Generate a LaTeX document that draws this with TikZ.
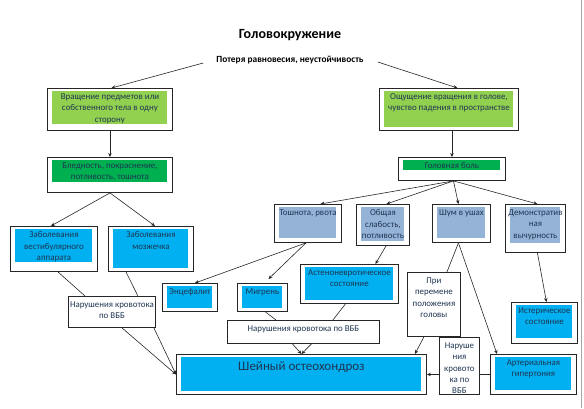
\documentclass[tikz,border=0pt]{standalone}
\usepackage{fontspec}
\setmainfont{Carlito}
\usetikzlibrary{arrows.meta,calc}
\definecolor{lgreen}{HTML}{92D050}
\definecolor{dgreen}{HTML}{00B050}
\definecolor{sky}{HTML}{00B0F0}
\definecolor{lav}{HTML}{95B3D7}
\definecolor{dtext}{HTML}{1F3552}
% frame with a coloured inner field and its text near the top
\newcommand{\SymBox}[7]{%
  \node[frame,inbox={#5}{#6},minimum width=#3,minimum height=#4] (#1) at (#2) {};
  \node[txt] (#1-t) at ([yshift=-5.5pt]#1.north) {#7};
}
\tikzset{
    >=Stealth,
    frame/.style={draw=black!85,line width=0.9pt,fill=white,anchor=north west,inner sep=0pt},
    inbox/.style 2 args={path picture={\fill[#1] ([xshift=5pt,yshift=-3pt]path picture bounding box.north west) rectangle ([xshift=-5pt,yshift=#2]path picture bounding box.south east);}},
    txt/.style={anchor=north,inner sep=0pt,align=center,text=dtext,font=\fontsize{8.9}{11.3}\selectfont},
    conn/.style={line width=0.6pt,black!85},
    arr/.style={conn,-{Stealth[length=4pt,width=3.5pt]}},
}
\begin{document}
\begin{tikzpicture}[x=1pt,y=-1pt]
    \useasboundingbox (0,0) rectangle (584,408);
    \draw[black!35,line width=1pt] (581,0) -- (581,408);

    \node[font=\fontsize{14}{16}\selectfont\bfseries] (title) at (290,35) {Головокружение};
    \node[inner sep=0pt,font=\fontsize{9.4}{11}\selectfont\bfseries] (sub) at (290,60) {Потеря равновесия, неустойчивость};

    \SymBox{rot}{47,88}{125pt}{42pt}{lgreen}{6pt}{Вращение предметов или\\собственного тела в одну\\сторону}
    \SymBox{sens}{379,88}{139pt}{42pt}{lgreen}{3pt}{Ощущение вращения в голове,\\чувство падения в пространстве}
    \SymBox{pale}{47,157}{125pt}{35pt}{dgreen}{10pt}{Бледность, покраснение,\\потливость, тошнота}
    \SymBox{head}{398,157}{107pt}{23pt}{dgreen}{10pt}{Головная боль}
    \SymBox{vest}{10,226}{87pt}{45pt}{sky}{9pt}{Заболевания\\вестибулярного\\аппарата}
    \SymBox{cereb}{108,226}{85pt}{45pt}{sky}{3pt}{Заболевания\\мозжечка}
    \SymBox{nausea}{274,204}{67pt}{38pt}{lav}{4pt}{Тошнота, рвота}
    \SymBox{weak}{356,204}{53pt}{41pt}{lav}{4pt}{Общая\\слабость,\\потливость}
    \SymBox{noise}{432,204}{58pt}{38pt}{lav}{4pt}{Шум в ушах}
    \SymBox{demo}{505,204}{60pt}{48pt}{lav}{9pt}{Демонстратив\\ная\\вычурность}
    \SymBox{enc}{162,283}{55pt}{28pt}{sky}{3pt}{Энцефалит}
    \SymBox{migr}{237,283}{50pt}{28pt}{sky}{3pt}{Мигрень}
    \SymBox{asth}{300,264}{98pt}{39pt}{sky}{3pt}{Астеноневротическое\\состояние}
    \SymBox{hyst}{511,302}{66pt}{41pt}{sky}{5pt}{Истерическое\\состояние}
    \SymBox{art}{490,354}{86pt}{40pt}{sky}{4pt}{Артериальная\\гипертония}
    \SymBox{vbbA}{68,296}{87pt}{31pt}{white}{0pt}{Нарушения кровотока\\по ВББ}
    \SymBox{vbbB}{227,320}{152pt}{23pt}{white}{0pt}{Нарушения кровотока по ВББ}
    \SymBox{pos}{407,272}{53pt}{64pt}{white}{0pt}{При\\перемене\\положения\\головы}
    \SymBox{vbbC}{439,337}{40pt}{57pt}{white}{0pt}{Наруше\\ния\\кровото\\ка по\\ВББ}
    \node[frame,inbox={sky}{3pt},minimum width=250pt,minimum height=40pt] (osteo) at (176,354) {};
    \node[txt,font=\fontsize{13}{15}\selectfont] (osteo-t) at ([yshift=-8pt]osteo.north) {Шейный остеохондроз};

    % connectors
    \draw[arr] ([xshift=-13pt,yshift=-3pt]sub.west) -- ([xshift=1.5pt]rot.north);
    \draw[arr] ([xshift=14pt,yshift=-2pt]sub.east) -- ([xshift=8.5pt]sens.north);
    \draw[arr] (rot.south) -- (pale.north);
    \draw[arr] (head.north |- sens.south) -- (head.north);
    \draw[arr] (pale.south) -- ([xshift=-3pt]vest.north);
    \draw[arr] (pale.south) -- ([xshift=4pt]cereb.north);
    \draw[conn] ([xshift=4pt]vest.south) -- ([xshift=17pt]vbbA.north west);
    \draw[conn] ([xshift=18pt]cereb.south west) -- ([xshift=-18pt]vbbA.north east);
    \draw[arr] ([xshift=54pt]vbbA.south west) -- (osteo.west);
    \draw[arr] ([xshift=-2pt]vbbA.south east) -- (osteo.west);
    \foreach \t/\s in {nausea/12.5pt, weak/3.5pt, noise/-3pt, demo/2pt}
        \draw[arr] ([xshift=1.5pt]head.south) -- ([xshift=\s]\t.north);
    \draw[arr] ([xshift=-2pt]nausea.south) -- ([xshift=5pt]enc.north);
    \draw[arr] ([xshift=-2pt]nausea.south) -- ([xshift=6pt,yshift=4pt]migr.north);
    \draw[arr] ([xshift=3pt]weak.south) -- ([xshift=26pt]asth.north);
    \draw[conn] ([xshift=3pt]migr.south) -- ([xshift=49pt]vbbB.north west);
    \draw[conn] ([xshift=-4pt]asth.south) -- ([xshift=-47pt]vbbB.north east);
    \draw[arr] ([xshift=-11pt]vbbB.south) -- (osteo.north);
    \draw[arr] ([xshift=8pt]vbbB.south) -- (osteo.north);
    \draw[conn] ([xshift=-3pt]noise.south) -- ([xshift=13pt]pos.north);
    \draw[arr] ([xshift=-3pt]noise.south) -- ([xshift=7pt]art.north west);
    \draw[arr] ([xshift=-10pt]pos.south) -- ([xshift=-12pt]osteo.north east);
    \draw[conn] (art.west) -- (art.west -| vbbC.east);
    \draw[arr] (osteo.east -| vbbC.west) -- (osteo.east);
    \draw[arr] ([xshift=2pt]demo.south) -- ([xshift=2pt]hyst.north);
\end{tikzpicture}
\end{document}
